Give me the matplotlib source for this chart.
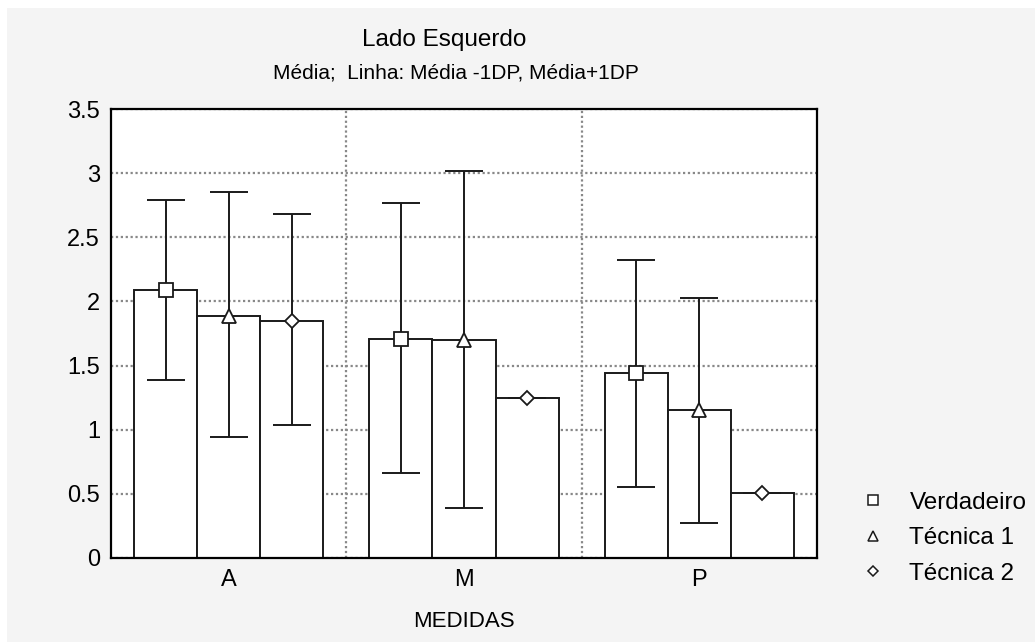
import numpy as np
import matplotlib
matplotlib.use("Agg")
import matplotlib.pyplot as plt
from matplotlib.lines import Line2D
from matplotlib.patches import Rectangle

plt.rcParams['font.family'] = ['Liberation Sans', 'DejaVu Sans']

medidas = ["A", "M", "P"]
series = ["Verdadeiro", "Técnica 1", "Técnica 2"]

# media, media-1DP, media+1DP
verdadeiro = [2.09, 1.71, 1.44]
verdadeiro_lo = [1.39, 0.66, 0.55]
verdadeiro_hi = [2.79, 2.77, 2.32]

tecnica1 = [1.89, 1.70, 1.15]
tecnica1_lo = [0.94, 0.39, 0.27]
tecnica1_hi = [2.85, 3.02, 2.03]

tecnica2 = [1.85, 1.25, 0.51]
tecnica2_lo = [1.04, 1.25, 0.51]
tecnica2_hi = [2.68, 1.25, 0.51]

medias = [verdadeiro, tecnica1, tecnica2]
los = [verdadeiro_lo, tecnica1_lo, tecnica2_lo]
his = [verdadeiro_hi, tecnica1_hi, tecnica2_hi]
marcadores = ["s", "^", "D"]
tam = [10, 10, 7]

fig = plt.figure(figsize=(10.35, 6.42), dpi=100, facecolor="white")
fig.patches.append(Rectangle((7/1035, 0), 1, 1 - 8/642, transform=fig.transFigure,
                             facecolor="#f4f4f4", edgecolor="none", zorder=-10))
ax = fig.add_axes([111/1035, 84/642, 706/1035, 449/642])

x = np.arange(len(medidas))
w = 0.268
for i in range(3):
    pos = x + (i - 1) * w
    m = np.array(medias[i])
    ax.bar(pos, m, width=w, color="white", edgecolor="#1a1a1a", linewidth=1.4, zorder=2)
    yerr = [m - np.array(los[i]), np.array(his[i]) - m]
    ax.errorbar(pos, m, yerr=yerr, fmt="none", ecolor="#1a1a1a", elinewidth=1.4,
                capsize=14, capthick=1.4, zorder=3)
    ax.plot(pos, m, linestyle="none", marker=marcadores[i], markersize=tam[i],
            markerfacecolor="white", markeredgecolor="#1a1a1a", markeredgewidth=1.3, zorder=4)

ax.set_xlim(-0.5, 2.5)
ax.set_ylim(0, 3.5)
ax.set_xticks(x)
ax.set_xticklabels(medidas)
ax.set_xticks([0.5, 1.5], minor=True)
ax.set_yticks(np.arange(0, 3.51, 0.5))
ax.set_yticklabels(["0", "0.5", "1", "1.5", "2", "2.5", "3", "3.5"])
ax.tick_params(axis="both", which="both", length=0, labelsize=17, pad=8)
ax.grid(True, axis="y", color="#888888", linestyle=(0, (1, 1.2)), linewidth=1.6, zorder=0)
ax.grid(True, axis="x", which="minor", color="#888888", linestyle=(0, (1, 1.2)), linewidth=1.6, zorder=0)
ax.set_axisbelow(True)
for s in ax.spines.values():
    s.set_color("black")
    s.set_linewidth(1.6)

ax.set_xlabel("MEDIDAS", fontsize=16, labelpad=14)
fig.text(444/1035, 1 - 40/642, "Lado Esquerdo", fontsize=17.5, ha="center", va="center")
fig.text(456/1035, 1 - 73/642, "Média;  Linha: Média -1DP, Média+1DP", fontsize=15, ha="center", va="center")

handles = [Line2D([], [], linestyle="none", marker=marcadores[i], markersize=tam[i] * 0.75,
                  markerfacecolor="white", markeredgecolor="#1a1a1a", markeredgewidth=1.1)
           for i in range(3)]
ax.legend(handles, series, loc="upper left", bbox_to_anchor=(839/1035, 1 - 470/642),
          bbox_transform=fig.transFigure, frameon=False, fontsize=17.5,
          handlelength=1.0, handletextpad=1.0, labelspacing=0.55)

fig.savefig("out.png", dpi=100, facecolor=fig.get_facecolor())
